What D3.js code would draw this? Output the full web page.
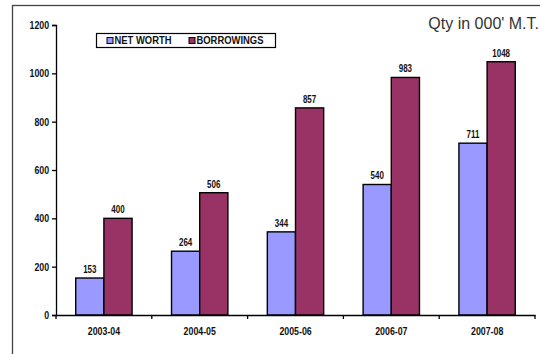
<!DOCTYPE html>
<html>
<head>
<meta charset="utf-8">
<script src="https://cdn.jsdelivr.net/npm/d3@7"></script>
<style>
  html, body { margin: 0; padding: 0; background: #fff; }
  svg { display: block; }
  /* condensed bold look for the small chart labels */
  .cond { transform-box: fill-box; }
  .cond.mid { transform: scaleX(0.8); transform-origin: center; }
  .cond.end { transform: scaleX(0.8); transform-origin: right center; }
  .cond.start { transform: scaleX(0.82); transform-origin: left center; }
</style>
</head>
<body>
<svg id="chart" width="540" height="354"></svg>
<script>
// Fiscal years and quantities (000' M.T.)
const years = ["2003-04", "2004-05", "2005-06", "2006-07", "2007-08"];
const netWorth = [153, 264, 344, 540, 711];
const borrowings = [400, 506, 857, 983, 1048];
const seriesNames = ["NET WORTH", "BORROWINGS"];
const seriesColors = ["#9999FF", "#993366"];
const yTicks = [0, 200, 400, 600, 800, 1000, 1200];

const labelFont = "Liberation Sans, Arial, sans-serif";

const svg = d3.select("#chart");
const W = 540, H = 354;
const margin = { left: 56, right: 5, top: 25, bottom: 39 };
const plotW = W - margin.left - margin.right;

// Frame around the chart area (top and left edges show inside the window)
svg.append("rect")
  .attr("x", 12.5).attr("y", 5.5)
  .attr("width", 600).attr("height", 400)
  .attr("fill", "none").attr("stroke", "#444").attr("stroke-width", 1.3);

const x = d3.scaleBand().domain(years).range([margin.left, margin.left + plotW]).padding(0);
const y = d3.scaleLinear().domain([0, 1200]).range([H - margin.bottom, margin.top]);

const inner = d3.scaleBand().domain(seriesNames)
  .range([0, x.bandwidth()]).paddingInner(0).paddingOuter(0.7);

const data = years.map((yr, i) => ({ year: yr, values: [netWorth[i], borrowings[i]] }));

// Bars
const groups = svg.append("g").selectAll("g").data(data).join("g")
  .attr("transform", d => `translate(${x(d.year)},0)`);

groups.selectAll("rect").data(d => d.values.map((v, j) => ({ v, j })))
  .join("rect")
  .attr("x", d => inner(seriesNames[d.j]))
  .attr("y", d => y(d.v))
  .attr("width", inner.bandwidth())
  .attr("height", d => y(0) - y(d.v))
  .attr("fill", d => seriesColors[d.j])
  .attr("stroke", "#000").attr("stroke-width", 1.4);

// Value labels
groups.selectAll("text").data(d => d.values.map((v, j) => ({ v, j })))
  .join("text")
  .attr("class", "cond mid")
  .attr("x", d => inner(seriesNames[d.j]) + inner.bandwidth() / 2)
  .attr("y", d => y(d.v) - 5)
  .attr("text-anchor", "middle")
  .attr("font-family", labelFont)
  .attr("font-weight", "bold").attr("font-size", 10)
  .attr("fill", "#111")
  .text(d => d.v);

// Y axis
const yAxis = svg.append("g")
  .attr("transform", `translate(${margin.left},0)`)
  .call(d3.axisLeft(y).tickValues(yTicks).tickSize(4).tickPadding(3).tickFormat(d3.format("d")));
yAxis.select(".domain").attr("stroke", "#000").attr("stroke-width", 1.3);
yAxis.selectAll(".tick line").attr("stroke", "#000").attr("stroke-width", 1.3);
yAxis.selectAll("text")
  .attr("class", "cond end")
  .attr("font-family", labelFont)
  .attr("font-weight", "bold").attr("font-size", 11).attr("fill", "#111");

// X axis with ticks on category boundaries
const xAxis = svg.append("g")
  .attr("transform", `translate(0,${y(0)})`)
  .call(d3.axisBottom(x).tickSize(0).tickPadding(12));
xAxis.select(".domain").attr("stroke", "#000").attr("stroke-width", 1.3);
xAxis.selectAll("text")
  .attr("class", "cond mid")
  .attr("font-family", labelFont)
  .attr("font-weight", "bold").attr("font-size", 11).attr("fill", "#111");
const bounds = years.map(d => x(d)).concat([x(years[years.length - 1]) + x.bandwidth()]);
xAxis.selectAll("line.bound").data(bounds).join("line")
  .attr("class", "bound")
  .attr("x1", d => d).attr("x2", d => d)
  .attr("y1", 0).attr("y2", 4)
  .attr("stroke", "#000").attr("stroke-width", 1.3);

// Unit note
svg.append("text")
  .attr("x", 539).attr("y", 29)
  .attr("text-anchor", "end")
  .attr("font-family", "Liberation Sans, Arial, sans-serif")
  .attr("font-size", 16).attr("fill", "#333")
  .text("Qty in 000' M.T.");

// Legend
const legend = svg.append("g").attr("transform", "translate(96,33)");
legend.append("rect")
  .attr("x", 0.5).attr("y", 0.5).attr("width", 179).attr("height", 14)
  .attr("fill", "#fff").attr("stroke", "#000").attr("stroke-width", 1.2);
const legendX = [11, 93];
seriesNames.forEach((name, i) => {
  legend.append("rect")
    .attr("x", legendX[i]).attr("y", 4.5)
    .attr("width", 6).attr("height", 6)
    .attr("fill", seriesColors[i]).attr("stroke", "#000").attr("stroke-width", 1);
  legend.append("text")
    .attr("class", "cond start")
    .attr("x", legendX[i] + 7.5).attr("y", 11.5)
    .attr("font-family", labelFont)
    .attr("font-weight", "bold").attr("font-size", 11.5).attr("fill", "#111")
    .text(name);
});
</script>
</body>
</html>
